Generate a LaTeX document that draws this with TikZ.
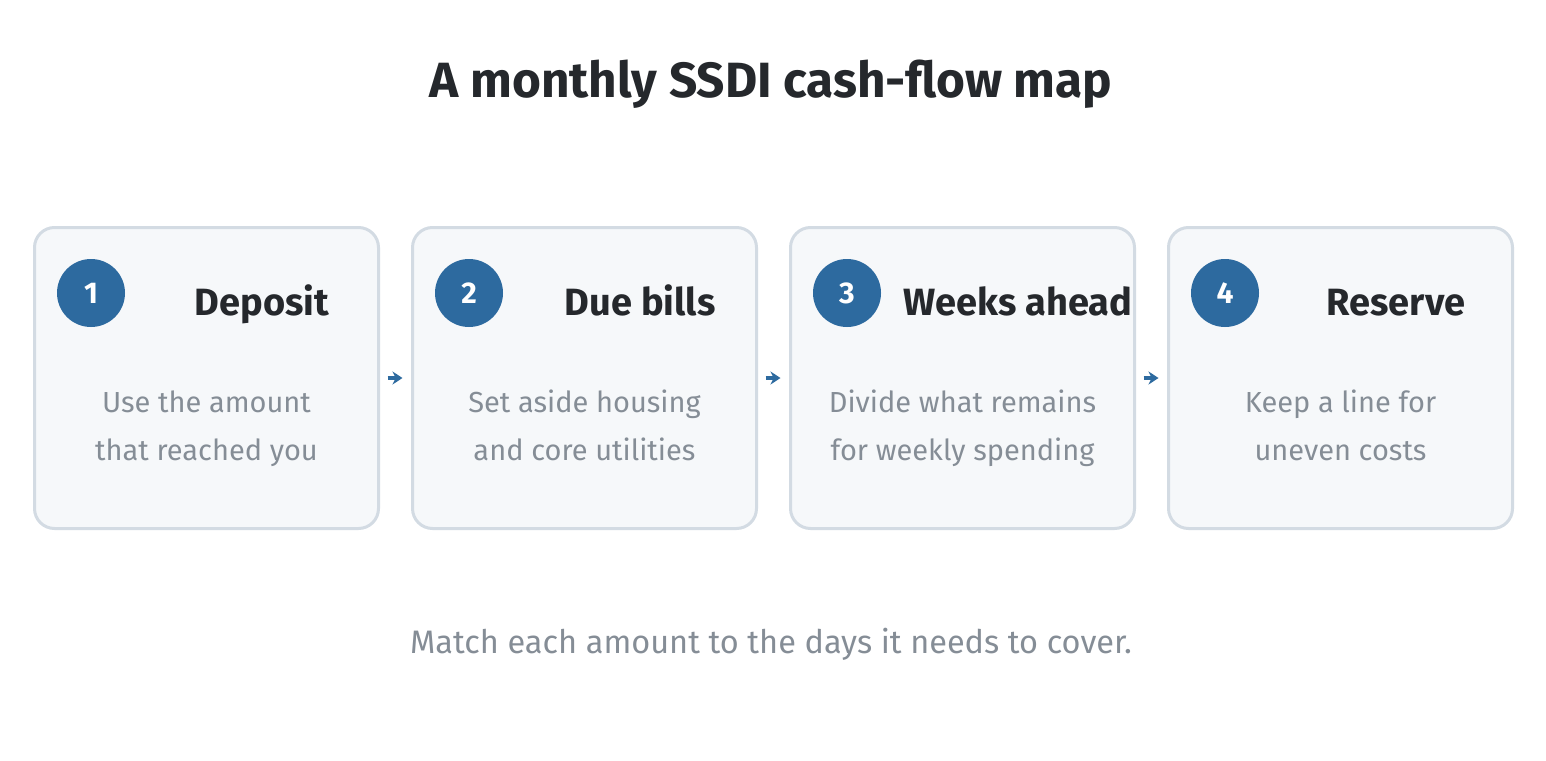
\documentclass[tikz,border=0pt]{standalone}
\usepackage{fontspec}
\setmainfont{Fira Sans}
\usetikzlibrary{arrows.meta}

\definecolor{ink}{HTML}{25282C}
\definecolor{stepblue}{HTML}{2D6A9F}
\definecolor{cardfill}{HTML}{F6F8FA}
\definecolor{cardline}{HTML}{D3DBE3}
\definecolor{muted}{HTML}{858D96}

\begin{document}
\begin{tikzpicture}[x=1pt,y=-1pt,
    card/.style={draw=cardline, line width=3pt, fill=cardfill, rounded corners=20pt,
        minimum width=344pt, minimum height=301pt, inner sep=0pt},
    badge/.style={circle, fill=stepblue, minimum size=68pt, inner sep=0pt, text=white,
        font=\bfseries\fontsize{30}{30}\selectfont},
    heading/.style={anchor=base, text=ink, font=\bfseries\fontsize{38}{38}\selectfont},
    blurb/.style={align=center, inner sep=0pt, text=muted, font=\fontsize{29}{48}\selectfont},
    flow/.style={-{Stealth[length=10pt,width=13pt]}, draw=stepblue, line width=4pt,
        shorten <=7.5pt, shorten >=8.5pt}]
    \def\W{378} % distance between card centres
    \def\X{206.5} % centre of the first card
    \def\Y{378} % centre line of the cards

    \useasboundingbox (0,0) rectangle (1546,760);

    % Title
    \node[anchor=base, text=ink, font=\bfseries\fontsize{49.5}{50}\selectfont] (title) at (771,97) {A monthly SSDI cash-flow map};

    % Cards
    \foreach \i/\head/\lineA/\lineB in {1/Deposit/Use the amount/that reached you,
        2/Due bills/Set aside housing/and core utilities,
        3/Weeks ahead/Divide what remains/for weekly spending,
        4/Reserve/Keep a line for/uneven costs} {
        \node[card] (box\i) at ({\X+(\i-1)*\W},\Y) {};
        \node[badge] (num\i) at ({\X+(\i-1)*\W-115.5},293) {\i};
        \node[heading] (head\i) at ({\X+(\i-1)*\W+55.5},315) {\head};
        \node[blurb] (text\i) at ({\X+(\i-1)*\W},426.4) {\strut\lineA\\\strut\lineB};
    }

    % Arrows between cards
    \foreach \i [evaluate=\i as \j using int(\i+1)] in {1,2,3} {
        \draw[flow] (box\i.east) -- (box\j.west);
    }

    % Footer
    \node[anchor=base, text=muted, font=\fontsize{32.5}{33}\selectfont] (note) at (771,653) {Match each amount to the days it needs to cover.};
\end{tikzpicture}
\end{document}
